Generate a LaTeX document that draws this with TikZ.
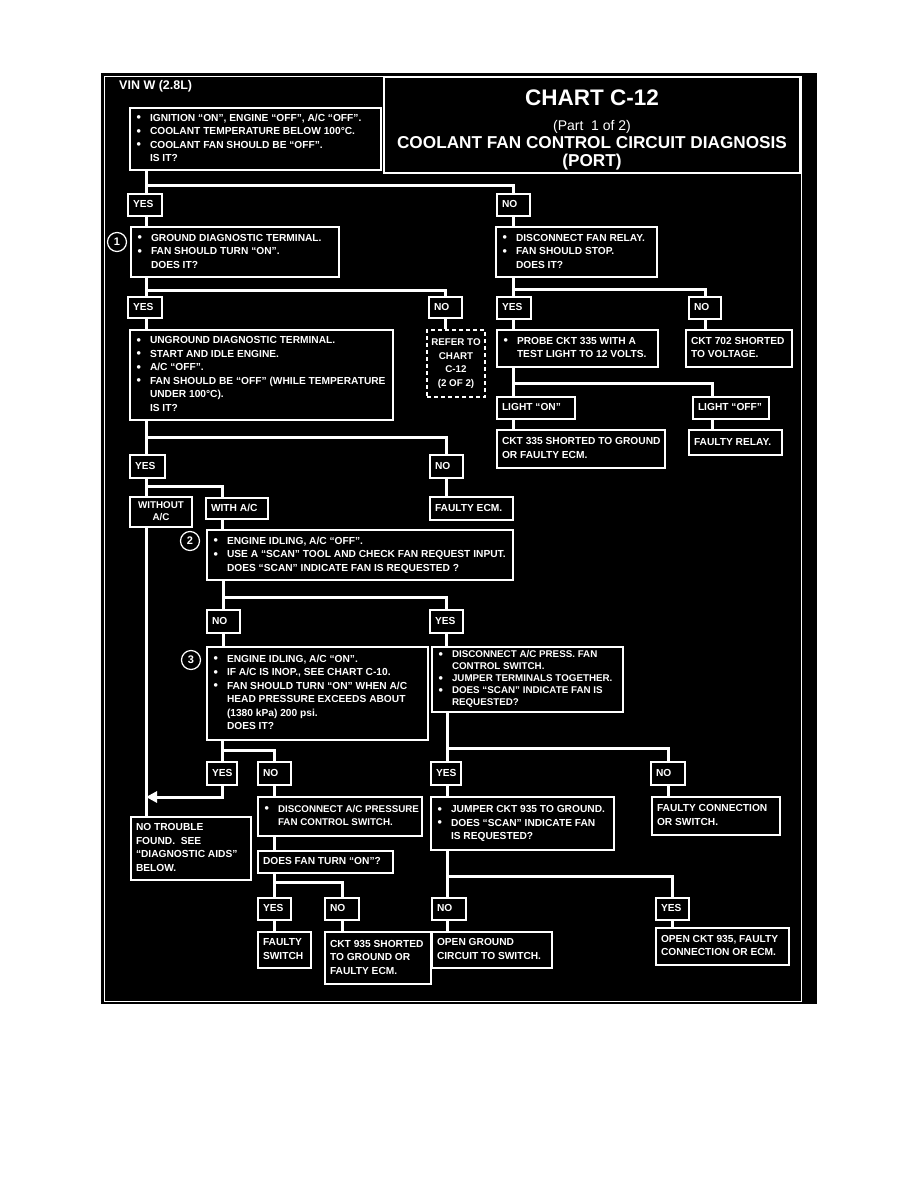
\documentclass[tikz,border=0pt]{standalone}
\usepackage{fontspec}
\setmainfont{Liberation Sans}
\usetikzlibrary{arrows.meta}
\newcommand\bul{\makebox[15pt][l]{\hspace{1.5pt}\raisebox{-0.4pt}{\fontsize{12.5}{12.5}\selectfont\textbullet}}}
\newcommand\ind{\hspace*{15pt}}
\newcommand\bx[7][]{%
  \pgfmathsetmacro\bxw{#5-#3}\pgfmathsetmacro\bxh{#6-#4}\pgfmathsetmacro\bxtw{#5-#3-10}%
  \node[box,minimum width=\bxw pt,minimum height=\bxh pt,#1] (#2) at ({(#3+#5)/2},{(#4+#6)/2})
    {\makebox[\bxtw pt][l]{\begin{tabular}{@{}l@{}}#7\end{tabular}}};}
\newcommand\bxc[7][]{%
  \pgfmathsetmacro\bxw{#5-#3}\pgfmathsetmacro\bxh{#6-#4}\pgfmathsetmacro\bxtw{#5-#3-10}%
  \node[box,minimum width=\bxw pt,minimum height=\bxh pt,#1] (#2) at ({(#3+#5)/2},{(#4+#6)/2})
    {\makebox[\bxtw pt][c]{\begin{tabular}{@{}c@{}}#7\end{tabular}}};}
\begin{document}
\begin{tikzpicture}[x=1pt,y=-1pt,
  box/.style={draw=white,line width=1.5pt,text=white,inner xsep=5pt,inner ysep=1pt,
    font=\bfseries\fontsize{10.2}{13.5}\selectfont},
  tight/.style={font=\bfseries\fontsize{9.8}{12}\selectfont},
  small/.style={font=\bfseries\fontsize{9.8}{13.5}\selectfont},
  dsh/.style={dash pattern=on 4pt off 3pt,line width=1.3pt},
  ttl/.style={text=white,inner sep=0pt,anchor=base},
  conn/.style={draw=white,line width=3pt},
  circ/.style={circle,draw=white,line width=1.2pt,text=white,minimum size=19pt,inner sep=0pt,
    font=\bfseries\fontsize{11}{12}\selectfont}]
\useasboundingbox (0,0) rectangle (918,1188);
\fill[white] (0,0) rectangle (918,1188);
\fill[black] (101,73) rectangle (817,1004);
\draw[white,line width=0.8pt] (104,76) rectangle (801,1001);

% title
\node[draw=white,line width=1.5pt,minimum width=416pt,minimum height=96pt,inner sep=0pt] (T) at (592,125) {};
\node[ttl,font=\bfseries\fontsize{22.5}{24}\selectfont] (t1) at (592,106) {CHART C-12};
\node[ttl,font=\fontsize{14}{15}\selectfont] (t2) at (592,131) {(Part\ \ 1 of 2)};
\node[ttl,font=\bfseries\fontsize{17.2}{18}\selectfont] (t3) at (592,148.5) {COOLANT FAN CONTROL CIRCUIT DIAGNOSIS};
\node[ttl,font=\bfseries\fontsize{17.2}{18}\selectfont] (t4) at (592,166) {(PORT)};
\node[text=white,anchor=west,inner sep=0pt,font=\bfseries\fontsize{12.5}{14}\selectfont] (vin) at (119,86) {VIN W (2.8L)};

% boxes
\bx{A}{130}{108}{381}{170}{\bul IGNITION “ON”, ENGINE “OFF”, A/C “OFF”.\\\bul COOLANT TEMPERATURE BELOW 100°C.\\\bul COOLANT FAN SHOULD BE “OFF”.\\\ind IS IT?}
\bx{y1}{128}{194}{162}{216}{YES}
\bx{n1}{497}{194}{530}{216}{NO}
\bx{B1}{131}{227}{339}{277}{\bul GROUND DIAGNOSTIC TERMINAL.\\\bul FAN SHOULD TURN “ON”.\\\ind DOES IT?}
\bx{B2}{496}{227}{657}{277}{\bul DISCONNECT FAN RELAY.\\\bul FAN SHOULD STOP.\\\ind DOES IT?}
\node[circ] (c1) at (117,242) {1};
\bx{y2}{128}{297}{162}{318}{YES}
\bx{n2}{429}{297}{462}{318}{NO}
\bx{y3}{497}{297}{531}{319}{YES}
\bx{n3}{689}{297}{721}{319}{NO}
\bx{C1}{130}{330}{393}{420}{\bul UNGROUND DIAGNOSTIC TERMINAL.\\\bul START AND IDLE ENGINE.\\\bul A/C “OFF”.\\\bul FAN SHOULD BE “OFF” (WHILE TEMPERATURE\\\ind UNDER 100°C).\\\ind IS IT?}
\bxc[dsh,small]{R}{427}{330}{485}{397}{REFER TO\\CHART\\C-12\\(2 OF 2)}
\bx{P}{497}{330}{658}{367}{\bul PROBE CKT 335 WITH A\\\ind TEST LIGHT TO 12 VOLTS.}
\bx{K7}{686}{330}{792}{367}{CKT 702 SHORTED\\TO VOLTAGE.}
\bx{lon}{497}{397}{575}{419}{LIGHT “ON”}
\bx{loff}{693}{397}{769}{419}{LIGHT “OFF”}
\bx{K3}{497}{430}{665}{468}{CKT 335 SHORTED TO GROUND\\OR FAULTY ECM.}
\bx{FR}{689}{430}{782}{455}{FAULTY RELAY.}
\bx{y4}{130}{455}{165}{478}{YES}
\bx{n4}{430}{455}{463}{478}{NO}
\bxc[tight]{WO}{130}{497}{192}{527}{WITHOUT\\A/C}
\bx{WA}{206}{498}{268}{519}{WITH A/C}
\bx{FE}{430}{497}{513}{520}{FAULTY ECM.}
\bx{D2}{207}{530}{513}{580}{\bul ENGINE IDLING, A/C “OFF”.\\\bul USE A “SCAN” TOOL AND CHECK FAN REQUEST INPUT.\\\ind DOES “SCAN” INDICATE FAN IS REQUESTED ?}
\node[circ] (c2) at (190,541) {2};
\bx{n5}{207}{610}{240}{633}{NO}
\bx{y5}{430}{610}{463}{633}{YES}
\bx{D3}{207}{647}{428}{740}{\bul ENGINE IDLING, A/C “ON”.\\\bul IF A/C IS INOP., SEE CHART C-10.\\\bul FAN SHOULD TURN “ON” WHEN A/C\\\ind HEAD PRESSURE EXCEEDS ABOUT\\\ind (1380 kPa) 200 psi.\\\ind DOES IT?}
\node[circ] (c3) at (191,660) {3};
\bx[tight]{D4}{432}{647}{623}{712}{\bul DISCONNECT A/C PRESS. FAN\\\ind CONTROL SWITCH.\\\bul JUMPER TERMINALS TOGETHER.\\\bul DOES “SCAN” INDICATE FAN IS\\\ind REQUESTED?}
\bx{y6}{207}{762}{237}{785}{YES}
\bx{n6}{258}{762}{291}{785}{NO}
\bx{y7}{431}{762}{461}{785}{YES}
\bx{n7}{651}{762}{685}{785}{NO}
\bx{NT}{131}{817}{251}{880}{NO TROUBLE\\FOUND.\ \ SEE\\“DIAGNOSTIC AIDS”\\BELOW.}
\bx[small]{DP}{258}{797}{422}{836}{\bul DISCONNECT A/C PRESSURE\\\ind FAN CONTROL SWITCH.}
\bx{DF}{258}{851}{393}{873}{DOES FAN TURN “ON”?}
\bx{J}{431}{797}{614}{850}{\bul JUMPER CKT 935 TO GROUND.\\\bul DOES “SCAN” INDICATE FAN\\\ind IS REQUESTED?}
\bx{FC}{652}{797}{780}{835}{FAULTY CONNECTION\\OR SWITCH.}
\bx{y8}{258}{898}{291}{920}{YES}
\bx{n8}{325}{898}{359}{920}{NO}
\bx{FS}{258}{932}{311}{968}{FAULTY\\SWITCH}
\bx{K9}{325}{932}{431}{984}{CKT 935 SHORTED\\TO GROUND OR\\FAULTY ECM.}
\bx{n9}{432}{898}{466}{920}{NO}
\bx{y9}{656}{898}{689}{920}{YES}
\bx{OG}{432}{932}{552}{968}{OPEN GROUND\\CIRCUIT TO SWITCH.}
\bx{OC}{656}{928}{789}{965}{OPEN CKT 935, FAULTY\\CONNECTION OR ECM.}

% connectors
\coordinate (jA) at (146,185);
\draw[conn] (A.south -| jA) -- (y1.north -| jA);
\draw[conn] (jA) -| (n1.north);
\draw[conn] (y1.south -| jA) -- (B1.north -| jA);
\draw[conn] (n1.south) -- (B2.north -| n1.south);

\coordinate (jB) at (146,290);
\draw[conn] (B1.south -| jB) -- (y2.north -| jB);
\draw[conn] (jB) -| (n2.north);
\draw[conn] (y2.south -| jB) -- (C1.north -| jB);
\draw[conn] (n2.south) -- (R.north -| n2.south);

\coordinate (jC) at (513,289);
\draw[conn] (B2.south -| jC) -- (y3.north -| jC);
\draw[conn] (jC) -| (n3.north);
\draw[conn] (y3.south -| jC) -- (P.north -| jC);
\draw[conn] (n3.south) -- (K7.north -| n3.south);

\coordinate (jD) at (513,383);
\coordinate (jD2) at (712,383);
\draw[conn] (P.south -| jD) -- (lon.north -| jD);
\draw[conn] (jD) -- (jD2) -- (loff.north -| jD2);
\draw[conn] (lon.south -| jD) -- (K3.north -| jD);
\draw[conn] (loff.south -| jD2) -- (FR.north -| jD2);

\coordinate (jE) at (146,437);
\draw[conn] (C1.south -| jE) -- (y4.north -| jE);
\draw[conn] (jE) -| (n4.north);
\draw[conn] (n4.south) -- (FE.north -| n4.south);

\coordinate (jF) at (146,486);
\coordinate (jF2) at (222,486);
\draw[conn] (y4.south -| jF) -- (WO.north -| jF);
\draw[conn] (jF) -- (jF2) -- (WA.north -| jF2);
\draw[conn] (WA.south -| jF2) -- (D2.north -| jF2);
\draw[conn] (WO.south -| jF) -- (NT.north -| jF);

\coordinate (jG) at (223,597);
\draw[conn] (D2.south -| jG) -- (n5.north -| jG);
\draw[conn] (jG) -| (y5.north);
\draw[conn] (n5.south -| jG) -- (D3.north -| jG);
\draw[conn] (y5.south) -- (D4.north -| y5.south);

\coordinate (jH) at (222,750);
\coordinate (jH2) at (222,797);
\draw[conn] (D3.south -| jH) -- (y6.north -| jH);
\draw[conn] (jH) -| (n6.north);
\draw[conn,-{Triangle[length=11pt,width=11pt]}] (y6.south -| jH) -- (jH2) -- (jF |- jH2);

\draw[conn] (n6.south) -- (DP.north -| n6.south);
\draw[conn] (DP.south -| n6.south) -- (DF.north -| n6.south);
\coordinate (jI) at (274.5,882);
\draw[conn] (DF.south -| jI) -- (y8.north -| jI);
\draw[conn] (jI) -| (n8.north);
\draw[conn] (y8.south -| jI) -- (FS.north -| jI);
\draw[conn] (n8.south) -- (K9.north -| n8.south);

\coordinate (jJ) at (447,748);
\draw[conn] (D4.south -| jJ) -- (y7.north -| jJ);
\draw[conn] (jJ) -| (n7.north);
\draw[conn] (y7.south -| jJ) -- (J.north -| jJ);
\draw[conn] (n7.south) -- (FC.north -| n7.south);

\coordinate (jK) at (447,876);
\draw[conn] (J.south -| jK) -- (n9.north -| jK);
\draw[conn] (jK) -| (y9.north);
\draw[conn] (n9.south -| jK) -- (OG.north -| jK);
\draw[conn] (y9.south) -- (OC.north -| y9.south);
\end{tikzpicture}
\end{document}
